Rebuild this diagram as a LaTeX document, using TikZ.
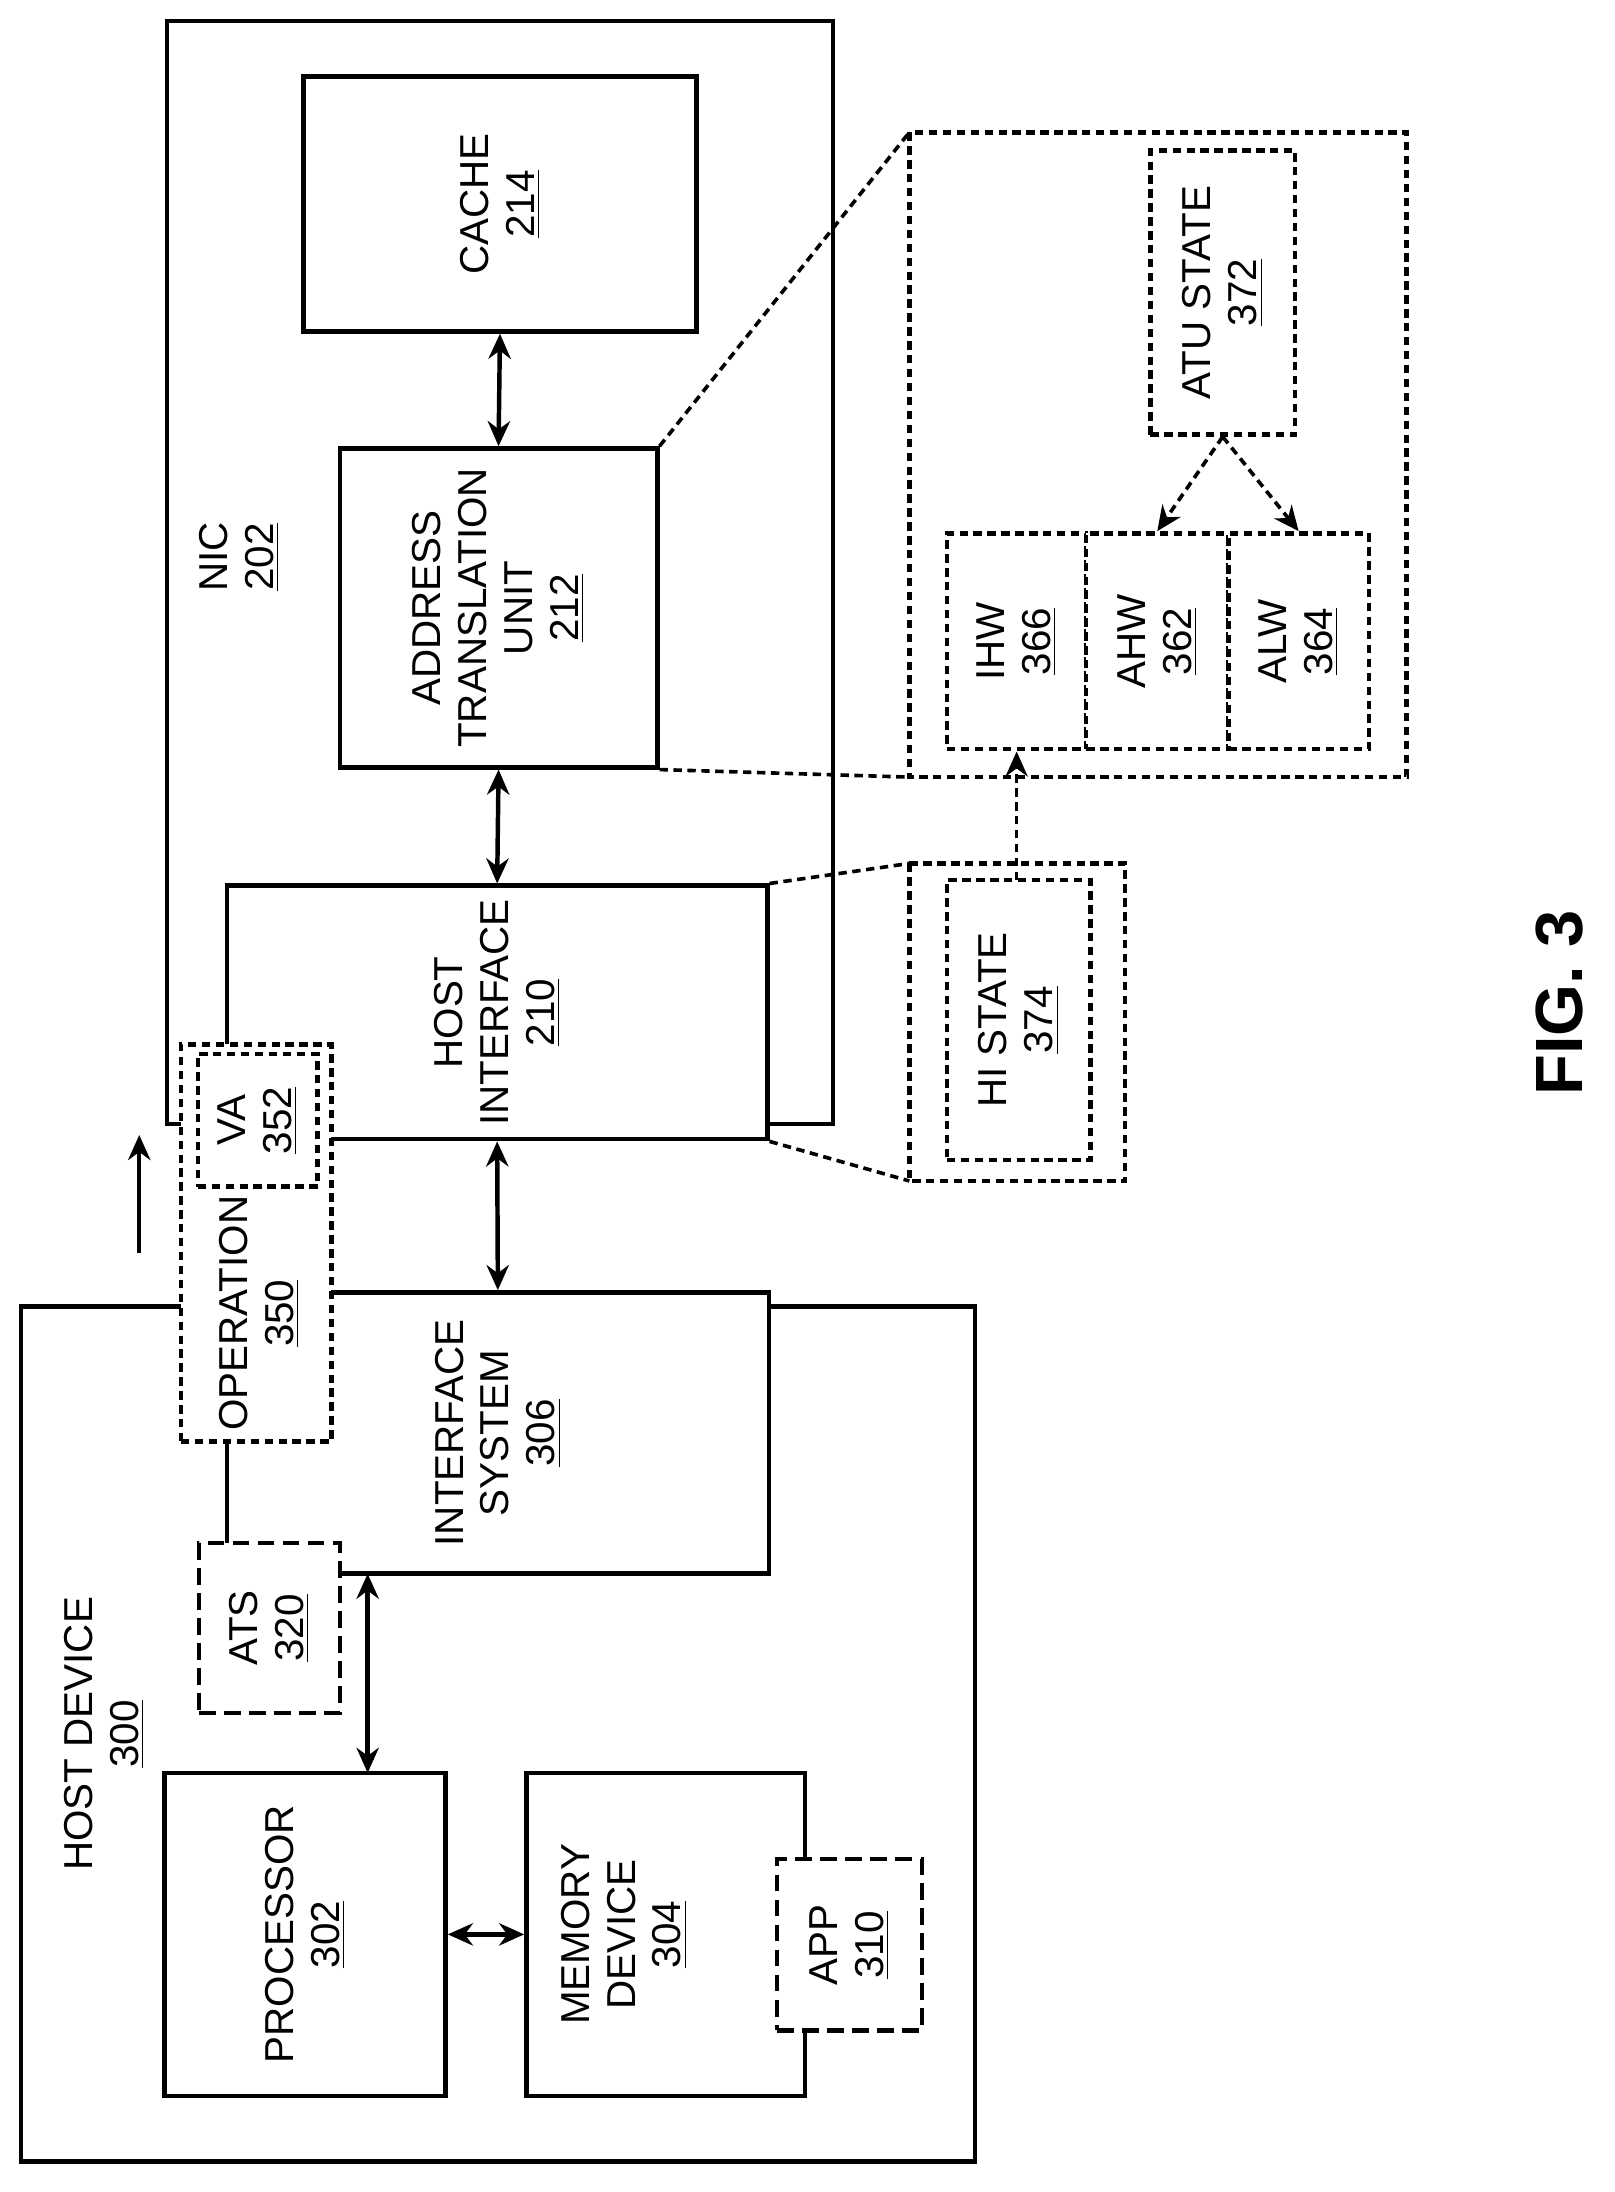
\documentclass[tikz,border=0pt]{standalone}
\usepackage{fontspec}
\setmainfont{Liberation Sans}
\usetikzlibrary{arrows.meta}
\begin{document}
\begin{tikzpicture}[x=0.5pt,y=-0.5pt,
 box/.style={draw,line width=1.6pt,fill=white},
 dbox/.style={draw,line width=1.6pt,dash pattern=on 3pt off 2pt,fill=white},
 dsh/.style={draw,line width=1.6pt,dash pattern=on 6pt off 3pt,fill=white},
 t/.style={rotate=90,align=center,font=\fontsize{14.5}{16.5}\selectfont},
 da/.style={line width=1.6pt,{Stealth[length=9pt,width=8pt]}-{Stealth[length=9pt,width=8pt]}},
 dl/.style={line width=1.3pt,dash pattern=on 3pt off 2pt}]
\useasboundingbox (0,0) rectangle (1159,1574);
% NIC
\draw[box] (120,15) rectangle (598,807);
\node[t] (nic) at (172,400) {NIC\\\underline{202}};
\node[box,minimum width=141pt,minimum height=91.5pt] (cache) at (359,146.5) {};
\node[t] at (cache) {CACHE\\\underline{214}};
\node[box,minimum width=114pt,minimum height=114.5pt] (atu) at (358,436.5) {};
\node[t] at (atu) {ADDRESS\\TRANSLATION\\UNIT\\\underline{212}};
% host device
\draw[box] (15,938) rectangle (700,1552);
\node[t] at (75,1245) {HOST DEVICE\\\underline{300}};
\node[box,minimum width=194.5pt,minimum height=101pt] (is) at (357.5,1029) {};
\node[t] at (is) {INTERFACE\\SYSTEM\\\underline{306}};
\node[box,minimum width=194pt,minimum height=91pt] (hi) at (357,727) {};
\node[t] at (hi) {HOST\\INTERFACE\\\underline{210}};
\node[dbox,minimum width=54pt,minimum height=142.5pt] (op) at (184,892.5) {};
\node[dbox,minimum width=43pt,minimum height=47.5pt] (va) at (185,804.5) {};
\node[t] at (va) {VA\\\underline{352}};
\node[t] at (186,943) {OPERATION\\\underline{350}};
\node[dsh,minimum width=50.5pt,minimum height=61pt] (ats) at (193.5,1169) {};
\node[t] at (ats) {ATS\\\underline{320}};
\node[box,minimum width=101pt,minimum height=116pt] (proc) at (219,1389) {};
\node[t] at (proc) {PROCESSOR\\\underline{302}};
\node[box,minimum width=100pt,minimum height=116pt] (mem) at (478,1389) {};
\node[t] at (448,1389) {MEMORY\\DEVICE\\\underline{304}};
\node[dsh,minimum width=52pt,minimum height=61.5pt] (app) at (610,1396.5) {};
\node[t] at (app) {APP\\\underline{310}};
% arrows
\coordinate (u1) at (100,900); \coordinate (u2) at (100,815);
\draw[line width=1.6pt,-{Stealth[length=9pt,width=8pt]}] (u1) -- (u2);
\draw[da] (cache.south) -- (atu.north);
\draw[da] (atu.south) -- (hi.north);
\draw[da] (hi.south) -- (is.north);
\draw[da] (264,1130) -- (264,1273);
\draw[da] (proc.east) -- (mem.west);
% zoom boxes
\draw[dbox] (653,95) rectangle (1010,558);
\node[dbox,minimum width=52pt,minimum height=102pt] (atus) at (878,210) {};
\node[t] at (atus) {ATU STATE\\\underline{372}};
\node[dbox,minimum width=50pt,minimum height=77.5pt] (ihw) at (730,460.5) {};
\node[dbox,minimum width=51pt,minimum height=77.5pt] (ahw) at (831,460.5) {};
\node[dbox,minimum width=50.5pt,minimum height=77.5pt] (alw) at (932.5,460.5) {};
\node[t] at (ihw) {IHW\\\underline{366}};
\node[t] at (ahw) {AHW\\\underline{362}};
\node[t] at (alw) {ALW\\\underline{364}};
\draw[dl,-{Stealth[length=9pt,width=8pt]}] (atus.south) -- (ahw.north);
\draw[dl,-{Stealth[length=9pt,width=8pt]}] (atus.south) -- (alw.north);
\draw[dl] (atu.north east) -- (653,95);
\draw[dl] (atu.south east) -- (653,558);
\draw[dbox] (653,620) rectangle (808,848);
\node[dbox,minimum width=51.5pt,minimum height=100.5pt] (his) at (731.5,732.5) {};
\node[t] at (his) {HI STATE\\\underline{374}};
\draw[dl] (hi.north east) -- (653,620);
\draw[dl] (hi.south east) -- (653,848);
\draw[dl,-{Stealth[length=9pt,width=8pt]}] (730,632) -- (ihw.south);
\node[rotate=90,font=\bfseries\fontsize{24}{28}\selectfont] at (1120,720) {FIG. 3};
\end{tikzpicture}
\end{document}
